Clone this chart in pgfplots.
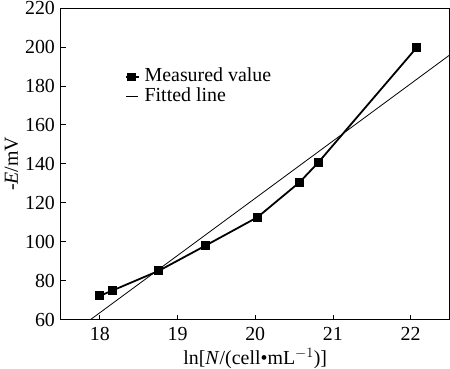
\documentclass[border=0pt]{standalone}
\usepackage{fontspec}
\setmainfont{Liberation Serif}
\usepackage{pgfplots}
\pgfplotsset{compat=1.18}
\begin{document}
\begin{tikzpicture}
\begin{axis}[
  scale only axis,
  width=389bp, height=312bp,
  xmin=17.5, xmax=22.5, ymin=60, ymax=220,
  xtick={18,19,20,21,22},
  ytick={60,80,...,220},
  tick align=inside,
  xtick pos=bottom, ytick pos=left,
  major tick length=5bp,
  axis line style={line width=0.9bp},
  tick style={line width=0.8bp, black},
  /pgf/number format/assume math mode=true,
  tick label style={font=\fontsize{20}{20}\selectfont},
  xticklabel style={yshift=-4bp},
  yticklabel style={xshift=-2.5bp},
  xlabel={ln[\textit{N}/(cell•mL$^{-1}$)]},
  ylabel={-\textit{E}/mV},
  every axis x label/.style={at={(axis description cs:0.5,-0.125)}, anchor=center, font=\fontsize{20}{22}\selectfont},
  every axis y label/.style={at={(axis description cs:-0.127,0.5)}, anchor=center, rotate=90, font=\fontsize{20}{22}\selectfont},
  legend style={draw=none, fill=none, at={(axis cs:18.32,189)}, anchor=north west,
    font=\fontsize{20}{22}\selectfont, row sep=2.5bp, column sep=5bp,
    inner sep=0pt, nodes={inner sep=0pt, text height=13bp, text depth=4bp}},
  legend cell align=left,
]
\addplot[black, line width=1.8bp, mark=square*, mark size=3.6bp,
  legend image code/.code={\draw[black,line width=1.8bp] (0bp,0bp)--(13bp,0bp); \fill[black] (2.5bp,-3.5bp) rectangle (9.5bp,3.5bp);}]
  coordinates {(18.00,72.2) (18.16,74.9) (18.76,85.1) (19.36,98.0) (20.03,112.6) (20.57,130.5) (20.81,140.6) (22.08,199.8)};
\addlegendentry{Measured value}
\addplot[black, line width=0.8bp,
  legend image code/.code={\draw[black,line width=1bp] (0.5bp,0bp)--(12.5bp,0bp);}]
  coordinates {(17.88,60) (22.5,195.8)};
\addlegendentry{Fitted line}
\end{axis}
\pgfresetboundingbox
\path ([xshift=-61bp,yshift=-49bp]current axis.south west) rectangle ([xshift=0.5bp,yshift=8bp]current axis.north east);
\end{tikzpicture}
\end{document}
